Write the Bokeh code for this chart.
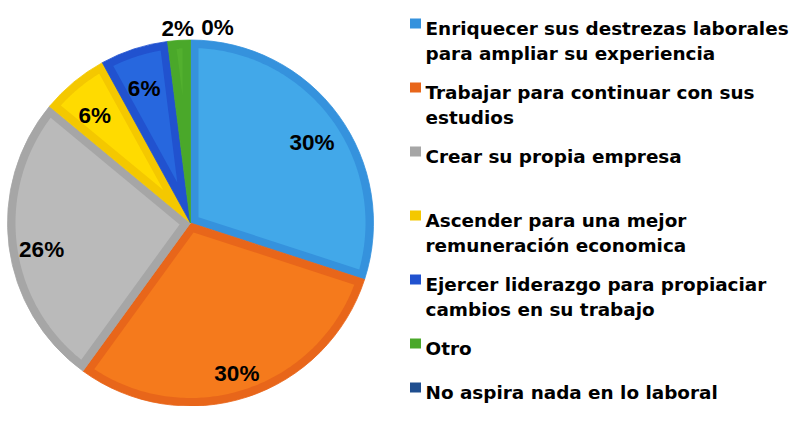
import numpy as np
from bokeh.plotting import figure
from bokeh.models import Range1d, ColumnDataSource
from bokeh.core.properties import value
from bokeh.embed import file_html
from bokeh.resources import INLINE

# ---- data ----
categories = [
    "Enriquecer sus destrezas laborales\npara ampliar su experiencia",
    "Trabajar para continuar con sus\nestudios",
    "Crear su propia empresa",
    "Ascender para una mejor\nremuneración economica",
    "Ejercer liderazgo para propiaciar\ncambios en su trabajo",
    "Otro",
    "No aspira nada en lo laboral",
]
percent = [30, 30, 26, 6, 6, 2, 0]
pct_labels = ["30%", "30%", "26%", "6%", "6%", "2%", "0%"]

# ---- styles ----
fill_colors = ["#42a8e9", "#f57a1c", "#bababa", "#ffdb00", "#2767de", "#52b02e", "#1f4e8f"]
edge_colors = ["#3592dd", "#e8661a", "#a6a6a6", "#f4c800", "#2152cf", "#4aa82a", "#1f4e8f"]

W, H = 792, 406
OX, OY = 8, 8   # page margin: picture pixel = frame pixel + offset
p = figure(width=W, height=H, output_backend="svg", toolbar_location=None,
           x_range=Range1d(0, W), y_range=Range1d(0, H), min_border=0,
           x_axis_location=None, y_axis_location=None)
p.grid.visible = False
p.outline_line_color = None
p.background_fill_color = "white"
p.border_fill_color = "white"

def X(xr):
    return xr - OX

def Y(yr):
    return H - (yr - OY)

cx, cy, R, d = X(198), Y(230.5), 183.0, 8.0

vals = np.array(percent, dtype=float)
frac = vals / vals.sum()
cw_end = np.cumsum(frac) * 2 * np.pi
cw_start = cw_end - frac * 2 * np.pi
start_math = np.pi / 2 - cw_end
end_math = np.pi / 2 - cw_start

nz = vals > 0
src = ColumnDataSource(dict(
    start=start_math[nz], end=end_math[nz],
    edge=[c for c, k in zip(edge_colors, nz) if k],
))
p.wedge(x=cx, y=cy, radius=R, start_angle="start", end_angle="end",
        fill_color="edge", line_color="edge", line_width=0.8, source=src)

# inner (lighter) inset regions
xs, ys, fills = [], [], []
for s, e, fc, v in zip(start_math, end_math, fill_colors, vals):
    if v <= 0:
        continue
    th = e - s
    m = (s + e) / 2
    rho = R - d
    vd = d / np.sin(th / 2)
    if vd >= rho:
        continue
    off = np.arcsin(d / rho)
    a = np.linspace(s + off, e - off, 120)
    px = np.concatenate([[cx + vd * np.cos(m)], cx + rho * np.cos(a)])
    py = np.concatenate([[cy + vd * np.sin(m)], cy + rho * np.sin(a)])
    xs.append(px.tolist()); ys.append(py.tolist()); fills.append(fc)
p.patches(xs, ys, fill_color=fills, line_color=None)

# percentage labels
lx, ly, lt, lxo = [], [], [], []
for s, e, v, t in zip(start_math, end_math, vals, pct_labels):
    m = (s + e) / 2
    r = 0.82 * R if v >= 4 else 1.11 * R
    lx.append(cx + r * np.cos(m)); ly.append(cy + r * np.sin(m)); lt.append(t)
    lxo.append(27 if v == 0 else 0)
p.text(x=lx, y=ly, text=lt, x_offset=lxo, y_offset=8,
       text_align="center", text_baseline="alphabetic",
       text_font=value("Liberation Sans"), text_font_style="bold",
       text_font_size="22.5px", text_color="black")

# legend
leg_x_box, leg_x_text = X(423), X(433)
first_base, step, line_gap = Y(36), 64.0, 24.5
tx, ty, tt = [], [], []
bx, by = [], []
for i, cat in enumerate(categories):
    base = max(first_base - step * i, 14.0)
    bx.append(leg_x_box); by.append(base + 5)
    for j, line in enumerate(cat.split("\n")):
        tx.append(leg_x_text); ty.append(base - j * line_gap); tt.append(line)
p.rect(x=bx, y=by, width=11, height=10, fill_color=edge_colors, line_color=None)
p.text(x=tx, y=ty, text=tt, text_align="left", text_baseline="alphabetic",
       text_font=value("DejaVu Sans"), text_font_style="bold",
       text_font_size="18.4px", text_color="black")

open("out.html", "w").write(file_html(p, INLINE))
